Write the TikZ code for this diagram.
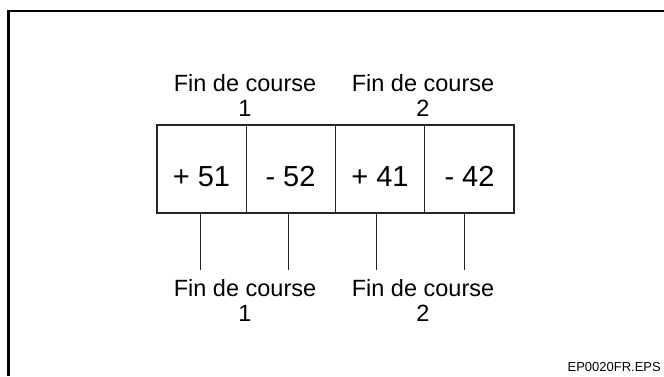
\documentclass[tikz,border=0pt]{standalone}
\usepackage{fontspec}
\setmainfont{Liberation Sans}
\begin{document}
\begin{tikzpicture}[x=1pt,y=-1pt,
  cell/.style={draw=black!85, line width=1.1pt, minimum width=89.25pt, minimum height=88pt,
    inner sep=0pt, outer sep=0pt},
  celltext/.style={font=\fontsize{29}{29}\selectfont, anchor=base, inner sep=0pt},
  lbl/.style={font=\fontsize{23.5}{25}\selectfont, align=center, anchor=base, inner sep=0pt},
  lead/.style={draw=black!85, line width=0.9pt},
  frame/.style={draw=black, line width=2.4pt}]
  \useasboundingbox (0,0) rectangle (664,376);
  % outer frame (left and top edges only)
  \draw[frame] (8.5,376) -- (8.5,11.2) -- (664,11.2);
  % terminal block
  \node[cell] (c1) at (201.6,169) {};
  \node[cell, anchor=west] (c2) at (c1.east) {};
  \node[cell, anchor=west] (c3) at (c2.east) {};
  \node[cell, anchor=west] (c4) at (c3.east) {};
  \node[celltext] (t1) at (201.5,186) {+ 51};
  \node[celltext] (t2) at (290.5,186) {- 52};
  \node[celltext] (t3) at (380,186) {+ 41};
  \node[celltext] (t4) at (469.5,186) {- 42};
  % upper labels (anchored on the baseline of their second line)
  \node[lbl] (u1) at (245,116) {Fin de course\\1};
  \node[lbl] (u2) at (423,116) {Fin de course\\2};
  % lead wires below the block
  \coordinate (e1) at (200,270);
  \coordinate (e2) at (288,270);
  \coordinate (e3) at (376,270);
  \coordinate (e4) at (464,270);
  \draw[lead] (e1 |- c1.south) -- (e1);
  \draw[lead] (e2 |- c2.south) -- (e2);
  \draw[lead] (e3 |- c3.south) -- (e3);
  \draw[lead] (e4 |- c4.south) -- (e4);
  % lower labels
  \node[lbl] (l1) at (245,321) {Fin de course\\1};
  \node[lbl] (l2) at (423,321) {Fin de course\\2};
  % drawing reference
  \node[font=\fontsize{13}{13}\selectfont, anchor=base east, inner sep=0pt] (ref) at (661,371) {EP0020FR.EPS};
\end{tikzpicture}
\end{document}
